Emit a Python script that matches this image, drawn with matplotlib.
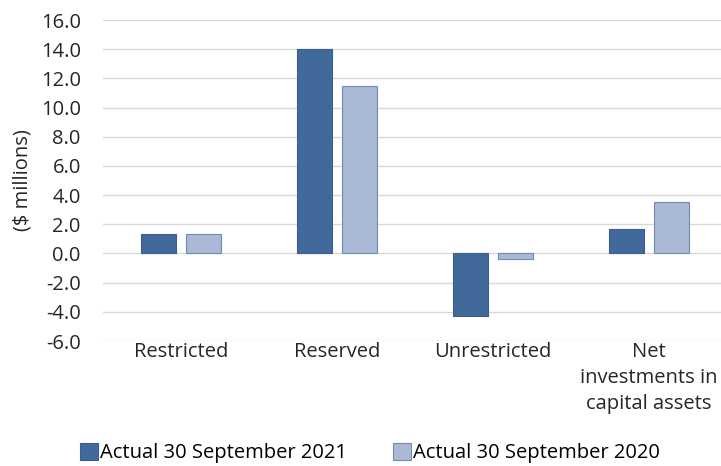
import numpy as np
import matplotlib
matplotlib.use("Agg")

import matplotlib.pyplot as plt

categories = ["Restricted", "Reserved", "Unrestricted", "Net\ninvestments in\ncapital assets"]
actual_2021 = [1.3, 14.0, -4.3, 1.7]
actual_2020 = [1.3, 11.5, -0.4, 3.5]
series_labels = ["Actual 30 September 2021", "Actual 30 September 2020"]
y_ticks = np.arange(-6, 17, 2)

plt.rcParams["font.family"] = ["Open Sans", "DejaVu Sans"]
FS = 14.5
TXT = "#262626"

fig = plt.figure(figsize=(7.21, 4.66), dpi=100)
ax = fig.add_axes([103 / 721, 1 - 341 / 466, 624 / 721, 321 / 466])

x = np.arange(len(categories))
w = 0.225
off = 0.144
ax.bar(x - off, actual_2021, width=w, color="#41699C", edgecolor="#3A5F8F",
       linewidth=0.8, label=series_labels[0], zorder=3)
ax.bar(x + off, actual_2020, width=w, color="#A9B9D6", edgecolor="#6F8CB8",
       linewidth=0.8, label=series_labels[1], zorder=3)

ax.set_xlim(-0.5, 3.5)
ax.set_ylim(-6, 16)
ax.set_yticks(y_ticks)
ax.set_yticklabels([f"{v:.1f}" for v in y_ticks], fontsize=FS, color=TXT)
ax.set_xticks(x)
ax.set_xticklabels(categories, fontsize=FS, color=TXT, linespacing=1.4, va="top")
ax.tick_params(axis="both", length=0)
ax.tick_params(axis="y", pad=16)
ax.tick_params(axis="x", pad=1)
ax.yaxis.grid(True, color="#D9D9D9", linewidth=1)
ax.set_axisbelow(True)
for s in ax.spines.values():
    s.set_visible(False)

ax.set_ylabel("($ millions)", fontsize=FS, color=TXT)
ax.yaxis.set_label_coords((33 - 103) / 624, 0.5)

fig.legend(loc="center", bbox_to_anchor=(370 / 721, 1 - 453 / 466), ncol=2,
           frameon=False, fontsize=FS, handlelength=0.9, handleheight=0.9,
           handletextpad=0.1, columnspacing=2.3)

fig.savefig("out.png", dpi=100)
plt.close(fig)
